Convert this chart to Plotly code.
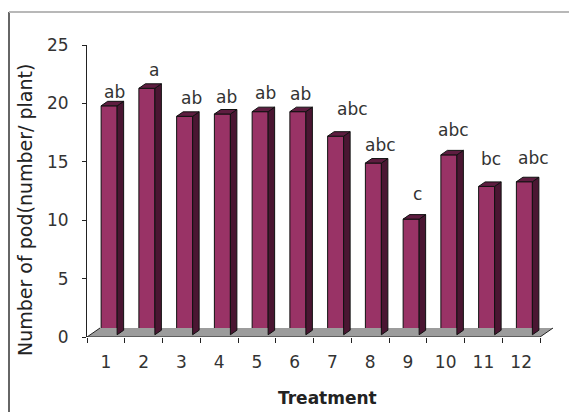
import plotly.graph_objects as go

# ---------------- data ----------------
treatments = ["1", "2", "3", "4", "5", "6", "7", "8", "9", "10", "11", "12"]
pods = [19.6, 21.1, 18.7, 18.9, 19.1, 19.1, 17.0, 14.7, 9.9, 15.4, 12.7, 13.1]
letters = ["ab", "a", "ab", "ab", "ab", "ab", "abc", "abc", "c", "abc", "bc", "abc"]
y_ticks = [0, 5, 10, 15, 20, 25]

# ---------------- layout / style ----------------
W, H = 569, 412
ML, MR, MT, MB = 87, 13, 45, 75
PW, PH = W - ML - MR, H - MT - MB
CAT_PX = 37.75                      # pixels per category
XR = [0.5, 0.5 + PW / CAT_PX]
YR = [0, 25]
UX = PW / (XR[1] - XR[0])           # px per x unit
UY = PH / (YR[1] - YR[0])           # px per y unit

FONT = "DejaVu Sans"
FRONT = "#993366"
SIDE = "#4a1632"
TOP = "#5e1d40"
FLOOR = "#9c9c9c"
EDGE = "#111111"

FLOOR_DX, FLOOR_DY = 13, 9           # depth of the 3-D floor in px
BAR_W = 16                           # bar footprint width in px
# label nudges (px): horizontal shift and lift above the bar front top
lab_dx = [9, 10, 10, 7, 9, 6, 20, 10, 10, 8, 8, 12]
lab_dy = [14, 18, 18, 17, 19, 18, 27, 18, 25, 25, 27, 24]

xs = list(range(1, len(treatments) + 1))

fdx, fdy = FLOOR_DX / UX, FLOOR_DY / UY
base = 0.25 * FLOOR_DY / UY
offset = (-BAR_W / 2 + 0.25 * FLOOR_DX) / UX
bw = BAR_W / UX
sdx, sdy = 0.5 * FLOOR_DX / UX, 0.5 * FLOOR_DY / UY


def px2paper(px, py):
    return (px - ML) / PW, (H - MB - py) / PH


fig = go.Figure()

# floor
x0f, x1f = xs[0] - 0.5, xs[-1] + 0.5
fig.add_trace(go.Scatter(
    x=[x0f, x1f, x1f + fdx, x0f + fdx, x0f],
    y=[0, 0, fdy, fdy, 0],
    fill="toself", fillcolor=FLOOR, mode="lines",
    line=dict(width=0), hoverinfo="skip"))
fig.add_trace(go.Scatter(
    x=[x0f + fdx, x0f, x1f, x1f + fdx],
    y=[fdy, 0, 0, fdy],
    mode="lines", line=dict(color="#222222", width=1), hoverinfo="skip"))

# front faces
fig.add_trace(go.Bar(
    x=xs, y=pods, base=[base] * len(xs), width=bw, offset=offset,
    marker=dict(color=FRONT, line=dict(color=EDGE, width=1))))

# side and top faces
sx, sy, tx, ty = [], [], [], []
for xi, v in zip(xs, pods):
    xl = xi + offset
    xr = xl + bw
    top = base + v
    sx += [xr, xr + sdx, xr + sdx, xr, xr, None]
    sy += [base, base + sdy, top + sdy, top, base, None]
    tx += [xl, xr, xr + sdx, xl + sdx, xl, None]
    ty += [top, top, top + sdy, top + sdy, top, None]
fig.add_trace(go.Scatter(x=sx, y=sy, fill="toself", fillcolor=SIDE, mode="lines",
                         line=dict(color=EDGE, width=1), hoverinfo="skip"))
fig.add_trace(go.Scatter(x=tx, y=ty, fill="toself", fillcolor=TOP, mode="lines",
                         line=dict(color=EDGE, width=1), hoverinfo="skip"))

annotations = []
for xi, v, t, dx, dy in zip(xs, pods, letters, lab_dx, lab_dy):
    annotations.append(dict(x=xi, y=base + v, text=t, showarrow=False,
                            xshift=dx, yshift=dy, xanchor="center", yanchor="middle",
                            font=dict(family=FONT, size=17, color="#333333")))

ax_, ay_ = px2paper(25, 210)
annotations.append(dict(x=ax_, y=ay_, xref="paper", yref="paper", text="Number of pod(number/ plant)",
                        textangle=-90, showarrow=False, xanchor="center", yanchor="middle",
                        font=dict(family=FONT, size=19, color="#222222")))
tx_, ty_ = px2paper(327, 398)
annotations.append(dict(x=tx_, y=ty_, xref="paper", yref="paper", text="<b>Treatment</b>",
                        showarrow=False, xanchor="center", yanchor="middle",
                        font=dict(family=FONT, size=17, color="#222222")))

bx0, by0 = px2paper(9, 12)
bx1, by1 = px2paper(W + 5, H + 5)
shapes = [
    dict(type="line", xref="paper", yref="paper", x0=bx0, x1=bx0, y0=by0, y1=by1,
         line=dict(color="#666666", width=2)),
    dict(type="line", xref="paper", yref="paper", x0=bx0, x1=bx1, y0=by0, y1=by0,
         line=dict(color="#b8b8b8", width=2)),
]

fig.update_layout(
    width=W, height=H, autosize=False,
    margin=dict(l=ML, r=MR, t=MT, b=MB, pad=0),
    paper_bgcolor="white", plot_bgcolor="white",
    showlegend=False, hovermode=False,
    annotations=annotations, shapes=shapes,
    font=dict(family=FONT, size=17, color="#222222"),
    xaxis=dict(range=XR, tickmode="array", tickvals=xs, ticktext=treatments,
               ticks="", showgrid=False, zeroline=False, showline=False,
               ticklabelstandoff=13,
               tickfont=dict(family=FONT, size=17, color="#333333"),
               minor=dict(tickmode="array", tickvals=[x - 0.5 for x in xs] + [xs[-1] + 0.5],
                          ticks="outside", ticklen=5, tickcolor="#222222", tickwidth=1,
                          showgrid=False)),
    yaxis=dict(range=YR, tickmode="array", tickvals=y_ticks, ticks="outside",
               ticklen=4, tickcolor="#222222", showline=True, linecolor="#222222",
               linewidth=1, showgrid=False, zeroline=False, ticklabelstandoff=10,
               tickfont=dict(family=FONT, size=17, color="#333333")),
)

fig.write_html("out.html", config={"displayModeBar": False, "staticPlot": True},
               post_script="document.body.style.margin='0';document.body.style.overflow='hidden';")
